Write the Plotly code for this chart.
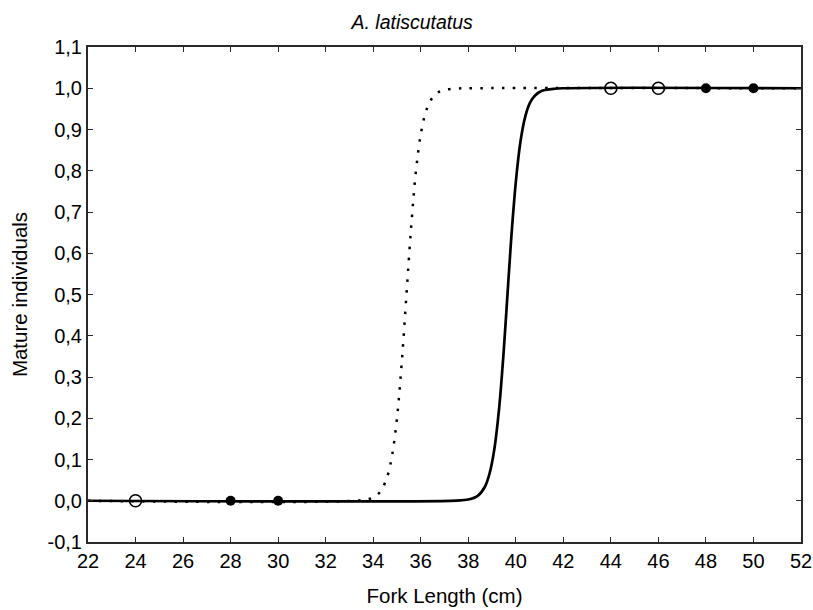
import plotly.graph_objects as go

# Solid logistic curve
solid_x = [22, 37.5, 38.0, 38.4, 38.7, 38.9, 39.1, 39.3, 39.5, 39.65, 39.8, 40.0, 40.2, 40.4, 40.6, 40.8, 41.1, 41.5, 42.0, 52]
solid_y = [0.0, 0.0005, 0.003, 0.012, 0.034, 0.067, 0.126, 0.225, 0.37, 0.50, 0.63, 0.772, 0.872, 0.932, 0.965, 0.982, 0.994, 0.998, 1.0, 1.0]

# Dotted logistic curve
dot_x = [22, 33.5, 34.0, 34.3, 34.6, 34.8, 35.0, 35.2, 35.4, 35.6, 35.8, 36.0, 36.2, 36.4, 36.7, 37.0, 37.5, 38.0, 52]
dot_y = [0.0, 0.0014, 0.008, 0.022, 0.06, 0.112, 0.20, 0.334, 0.50, 0.666, 0.80, 0.888, 0.94, 0.969, 0.989, 0.996, 0.9993, 1.0, 1.0]

# Observed points
open_x = [24, 44, 46]
open_y = [0, 1, 1]
filled_x = [28, 30, 48, 50]
filled_y = [0, 0, 1, 1]

x_ticks = list(range(22, 53, 2))
y_ticks = [-0.1, 0.0, 0.1, 0.2, 0.3, 0.4, 0.5, 0.6, 0.7, 0.8, 0.9, 1.0, 1.1]
y_ticktext = ["-0,1", "0,0", "0,1", "0,2", "0,3", "0,4", "0,5", "0,6", "0,7", "0,8", "0,9", "1,0", "1,1"]

FONT = "Liberation Sans, Arial"

fig = go.Figure()
fig.add_trace(go.Scatter(x=dot_x, y=dot_y, mode="lines", line_shape="spline",
                         line=dict(color="black", width=2.5, dash="2.5px,8.3px"), showlegend=False))
fig.add_trace(go.Scatter(x=solid_x, y=solid_y, mode="lines", line_shape="spline",
                         line=dict(color="black", width=2.7), showlegend=False))
fig.add_trace(go.Scatter(x=open_x, y=open_y, mode="markers",
                         marker=dict(symbol="circle-open", size=12, color="black", line=dict(width=1.6)),
                         showlegend=False))
fig.add_trace(go.Scatter(x=filled_x, y=filled_y, mode="markers",
                         marker=dict(symbol="circle", size=10, color="black"),
                         showlegend=False))

axis_common = dict(showline=True, linecolor="#2a2a2a", linewidth=2, mirror="ticks",
                   ticks="inside", ticklen=5, tickcolor="#2a2a2a", tickwidth=1,
                   showgrid=False, zeroline=False, automargin=False,
                   tickfont=dict(family=FONT, size=20, color="black"))

fig.update_layout(
    width=813, height=610,
    margin=dict(l=88, r=12, t=47, b=68),
    paper_bgcolor="white", plot_bgcolor="white",
    font=dict(family=FONT, color="black"),
    title=dict(text="<i>A. latiscutatus</i>", x=0.507, xanchor="center", y=0.964, yanchor="middle",
               font=dict(size=19.5)),
    xaxis=dict(range=[22, 52], tickvals=x_ticks, ticktext=[str(v) for v in x_ticks],
               title=dict(text="Fork Length (cm)", font=dict(size=20.5), standoff=18), **axis_common),
    yaxis=dict(range=[-0.1, 1.1], tickvals=y_ticks, ticktext=y_ticktext,
               title=dict(text="Mature individuals", font=dict(size=20.5), standoff=14), **axis_common),
)

fig.write_html("out.html")
